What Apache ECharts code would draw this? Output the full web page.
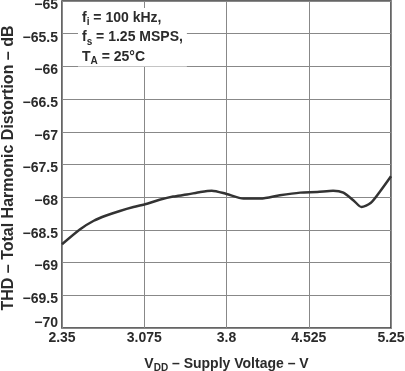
<!DOCTYPE html>
<html>
<head>
<meta charset="utf-8">
<script src="https://cdn.jsdelivr.net/npm/echarts@6/dist/echarts.min.js"></script>
<style>
html,body{margin:0;padding:0;background:#fff;}
#c{width:405px;height:371px;}
</style>
</head>
<body>
<div id="c"></div>
<script>
var voltage = [2.35, 2.51, 2.63, 2.74, 2.86, 2.98, 3.10, 3.21, 3.33, 3.45, 3.57, 3.67, 3.80, 3.95, 4.10, 4.27, 4.45, 4.60, 4.74, 4.83, 4.92, 4.99, 5.07, 5.15, 5.25];
var thd = [-68.72, -68.49, -68.36, -68.28, -68.21, -68.15, -68.10, -68.04, -67.99, -67.96, -67.92, -67.90, -67.95, -68.02, -68.02, -67.97, -67.93, -67.92, -67.90, -67.93, -68.05, -68.15, -68.09, -67.92, -67.68];
var xTickLabels = ['2.35', '3.075', '3.8', '4.525', '5.25'];
var xStart = 2.35, xStep = 0.725;
var yTitle = 'THD \u2013 Total Harmonic Distortion \u2013 dB';

var FONT = '"Liberation Sans", Arial, Helvetica, sans-serif';
var TXT = '#2b2b2b';

var seriesData = voltage.map(function (v, i) {
  return [(v - xStart) / xStep, thd[i]];
});

var chart = echarts.init(document.getElementById('c'), null, {renderer: 'canvas'});
chart.setOption({
  animation: false,
  backgroundColor: '#fff',
  grid: {left: 62, right: 14, top: 1, bottom: 43, outerBoundsMode: 'none', containLabel: false,
         show: true, borderColor: '#333', borderWidth: 1.5, backgroundColor: 'transparent'},
  xAxis: {
    type: 'value', min: 0, max: 4, interval: 1,
    axisLine: {show: false}, axisTick: {show: false},
    splitLine: {show: true, lineStyle: {color: '#888', width: 1}},
    axisLabel: {
      margin: 3, color: TXT, fontFamily: FONT, fontWeight: 'bold', fontSize: 14,
      formatter: function (v) { return xTickLabels[Math.round(v)]; }
    },
    name: '{b|V}{s|DD}{b| \u2013 Supply Voltage \u2013 V}',
    nameLocation: 'middle', nameGap: 27,
    nameTextStyle: {
      rich: {
        b: {fontFamily: FONT, fontWeight: 'bold', fontSize: 14, color: TXT, lineHeight: 18},
        s: {fontFamily: FONT, fontWeight: 'bold', fontSize: 10, color: TXT, lineHeight: 10, verticalAlign: 'bottom'}
      }
    }
  },
  yAxis: {
    type: 'value', min: -70, max: -65, interval: 0.5,
    axisLine: {show: false}, axisTick: {show: false},
    splitLine: {show: true, lineStyle: {color: '#888', width: 1}},
    axisLabel: {
      margin: 4, fontFamily: FONT, fontWeight: 'bold', fontSize: 14, color: TXT,
      formatter: function (v) {
        var s = String(v).replace('-', '\u2212');
        if (v === -70) return '{e|' + s + '}';
        return '{n|' + s + '}';
      },
      rich: {
        n: {fontFamily: FONT, fontWeight: 'bold', fontSize: 14, color: TXT, padding: [8, 0, 0, 0]},
        e: {fontFamily: FONT, fontWeight: 'bold', fontSize: 14, color: TXT, padding: [0, 0, 9, 0]}
      }
    }
  },
  graphic: [{
    type: 'text', x: 9, y: 168, rotation: Math.PI / 2, z: 100,
    style: {
      text: yTitle, fontFamily: FONT, fontWeight: 'bold', fontSize: 16, fill: TXT,
      align: 'center', verticalAlign: 'middle'
    }
  }, {
    type: 'text', left: 78, top: 8, z: 100,
    style: {
      text: '{b|f}{s|i}{b| = 100 kHz,}\n{b|f}{s|s}{b| = 1.25 MSPS,}\n{b|T}{s|A}{b| = 25\u00b0C}',
      backgroundColor: '#fff',
      padding: [0, 4, 0, 4],
      rich: {
        b: {fontFamily: FONT, fontWeight: 'bold', fontSize: 14, fill: TXT, lineHeight: 19.5},
        s: {fontFamily: FONT, fontWeight: 'bold', fontSize: 10, fill: TXT, lineHeight: 10, verticalAlign: 'bottom'}
      }
    }
  }],
  series: [{
    type: 'line', data: seriesData, smooth: 0.25, showSymbol: false,
    lineStyle: {color: '#333', width: 2.5}, z: 10
  }]
});
</script>
</body>
</html>
